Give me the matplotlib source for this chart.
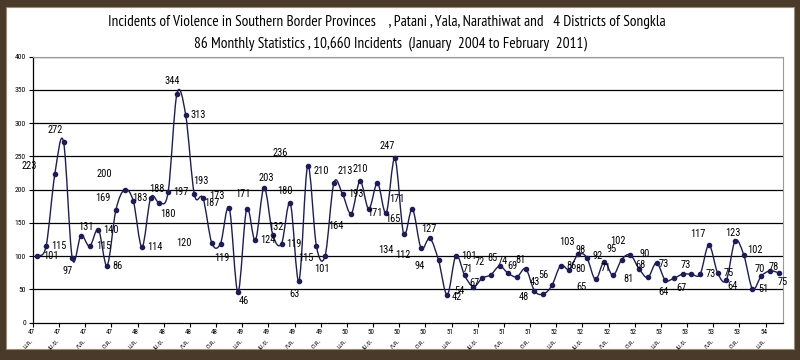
import matplotlib
matplotlib.use("Agg")
import matplotlib.pyplot as plt
from matplotlib.path import Path
from matplotlib.patches import PathPatch, Rectangle

# monthly incidents, January 2547 (2004) to February 2554 (2011)
incidents = [101, 115, 223, 272, 97, 131, 115, 140, 86, 169,
             200, 183, 114, 188, 180, 197, 344, 313, 193, 187,
             120, 119, 173, 46, 171, 124, 203, 132, 119, 180,
             63, 236, 115, 101, 210, 193, 164, 213, 171, 210,
             165, 247, 134, 171, 112, 127, 94, 42, 101, 71,
             54, 67, 72, 85, 74, 69, 81, 48, 43, 56,
             86, 80, 103, 98, 65, 92, 71, 95, 102, 81,
             68, 90, 64, 67, 73, 73, 73, 117, 75, 64,
             123, 102, 51, 70, 78, 75]

# x tick labels, one every three months (Thai year, Thai month)
year_labels = ['47', '47', '47', '47', '48', '48', '48', '48',
               '49', '49', '49', '49', '50', '50', '50', '50',
               '51', '51', '51', '51', '52', '52', '52', '52',
               '53', '53', '53', '53', '54']
month_labels = ['ม.ค.', 'เม.ย.', 'ก.ค.', 'ต.ค.'] * 7 + ['ม.ค.']
y_ticks = [0, 50, 100, 150, 200, 250, 300, 350, 400]

title_1 = ('Incidents of Violence in Southern Border Provinces    , Patani , Yala, '
           'Narathiwat and   4 Districts of Songkla')
title_2 = '86 Monthly Statistics , 10,660 Incidents  (January  2004 to February  2011)'

# where each value label sits relative to its point (pixels, right / down)
label_offsets = [(14, 0), (13, 0), (-26, -8), (-8, -12), (-5, 13), (5, -9), (14, 0), (13, 0),
                 (10, 0), (-13, -12), (-20, -16), (7, -3), (13, 0), (6, -9), (8, 11), (13, 0),
                 (-5, -13), (13, 0), (7, -13), (9, 5), (-28, 0), (1, 14), (-12, -12), (6, 9),
                 (-4, -15), (12, 0), (2, -10), (3, -8), (12, 0), (-5, -12), (-4, 13), (-27, -13),
                 (-11, 12), (-3, 13), (-13, -12), (13, 0), (-15, 12), (-15, -10), (6, 4), (-17, -14),
                 (7, 6), (-8, -12), (-18, 16), (-16, -10), (-18, 7), (-1, -9), (-19, 6), (10, 2),
                 (13, 0), (3, -6), (-14, 4), (-8, 5), (-11, -13), (-7, -8), (-6, -12), (-5, -11),
                 (-5, -9), (-11, 6), (-8, -12), (-8, -10), (11, 0), (11, 0), (-11, -12), (-6, -8),
                 (-14, 8), (-7, -6), (-7, -7), (-10, -11), (-12, -14), (-11, 10), (-7, -12), (-12, -9),
                 (-2, 12), (8, 10), (-19, -10), (-6, -9), (11, 0), (-11, -11), (11, 0), (6, 6),
                 (-2, -8), (11, -5), (11, 0), (-1, -7), (4, -4), (4, 9)]

title_font = ['PT Sans Narrow', 'DejaVu Sans']
label_font = ['Roboto Condensed', 'DejaVu Sans']
thai_font = ['Noto Sans Thai', 'DejaVu Sans']
line_color = '#1c1c5c'

W, H = 800, 360
fig = plt.figure(figsize=(W / 100, H / 100), dpi=100)
fig.patch.set_facecolor('#4a3a29')

# white sheet inside the brown frame
fig.patches.append(Rectangle((6 / W, 11 / H), 788 / W, 342 / H, transform=fig.transFigure,
                             facecolor='white', edgecolor='#9c8c70', linewidth=0.8, zorder=-5))

fig.text(387 / W, 1 - 22 / H, title_1, ha='center', va='center', fontsize=11, family=title_font)
fig.text(390 / W, 1 - 44 / H, title_2, ha='center', va='center', fontsize=11, family=title_font)

ax = fig.add_axes([33 / W, 1 - 322.7 / H, 750 / W, 266 / H])
ax.set_zorder(2)
ax.set_facecolor('white')

x = list(range(len(incidents)))
ax.set_xlim(-0.5, len(incidents) - 0.5)
ax.set_ylim(0, 400)

# gridlines
for v in y_ticks[1:]:
    ax.axhline(v, color='black', linewidth=0.9, zorder=1)

# smoothed line (Bezier through the points, like Excel's smoothed line)
verts = [(x[0], incidents[0])]
codes = [Path.MOVETO]
n = len(incidents)
for i in range(n - 1):
    p0 = (x[max(i - 1, 0)], incidents[max(i - 1, 0)])
    p1 = (x[i], incidents[i])
    p2 = (x[i + 1], incidents[i + 1])
    p3 = (x[min(i + 2, n - 1)], incidents[min(i + 2, n - 1)])
    c1 = (p1[0] + (p2[0] - p0[0]) / 6, p1[1] + (p2[1] - p0[1]) / 6)
    c2 = (p2[0] - (p3[0] - p1[0]) / 6, p2[1] - (p3[1] - p1[1]) / 6)
    verts += [c1, c2, p2]
    codes += [Path.CURVE4] * 3
ax.add_patch(PathPatch(Path(verts, codes), facecolor='none', edgecolor=line_color,
                       linewidth=1.0, zorder=3))
ax.plot(x, incidents, linestyle='none', marker='o', markersize=3,
        color=line_color, zorder=4)

# value labels
for xi, v, (dx, dy) in zip(x, incidents, label_offsets):
    ax.annotate(str(v), (xi, v), xytext=(dx, -dy), textcoords='offset pixels',
                ha='center', va='center', fontsize=7.5, family=label_font, zorder=5)

# axes styling
for side in ['top', 'right']:
    ax.spines[side].set_color('#9a9a9a')
    ax.spines[side].set_linewidth(0.8)
ax.spines['left'].set_linewidth(0.9)
ax.spines['bottom'].set_linewidth(0.9)

ax.set_yticks(y_ticks)
ax.set_yticklabels([str(v) for v in y_ticks], fontsize=5.5, family=label_font)
ax.tick_params(axis='y', length=3, width=0.8, pad=2)

tick_pos = [3 * k - 0.5 for k in range(len(year_labels))]
ax.set_xticks(tick_pos)
ax.set_xticklabels([])
ax.tick_params(axis='x', length=3, width=0.8, direction='out')
for tp, yr, mo in zip(tick_pos, year_labels, month_labels):
    ax.annotate(yr, (tp, 0), xytext=(-2, -10), textcoords='offset pixels',
                ha='center', va='center', fontsize=5, family=label_font, annotation_clip=False)
    ax.annotate(mo, (tp, 0), xytext=(-3, -15), textcoords='offset pixels',
                ha='right', va='top', fontsize=4.5, rotation=45, rotation_mode='anchor',
                family=thai_font, annotation_clip=False)

fig.savefig('out.png', dpi=100, facecolor=fig.get_facecolor())
